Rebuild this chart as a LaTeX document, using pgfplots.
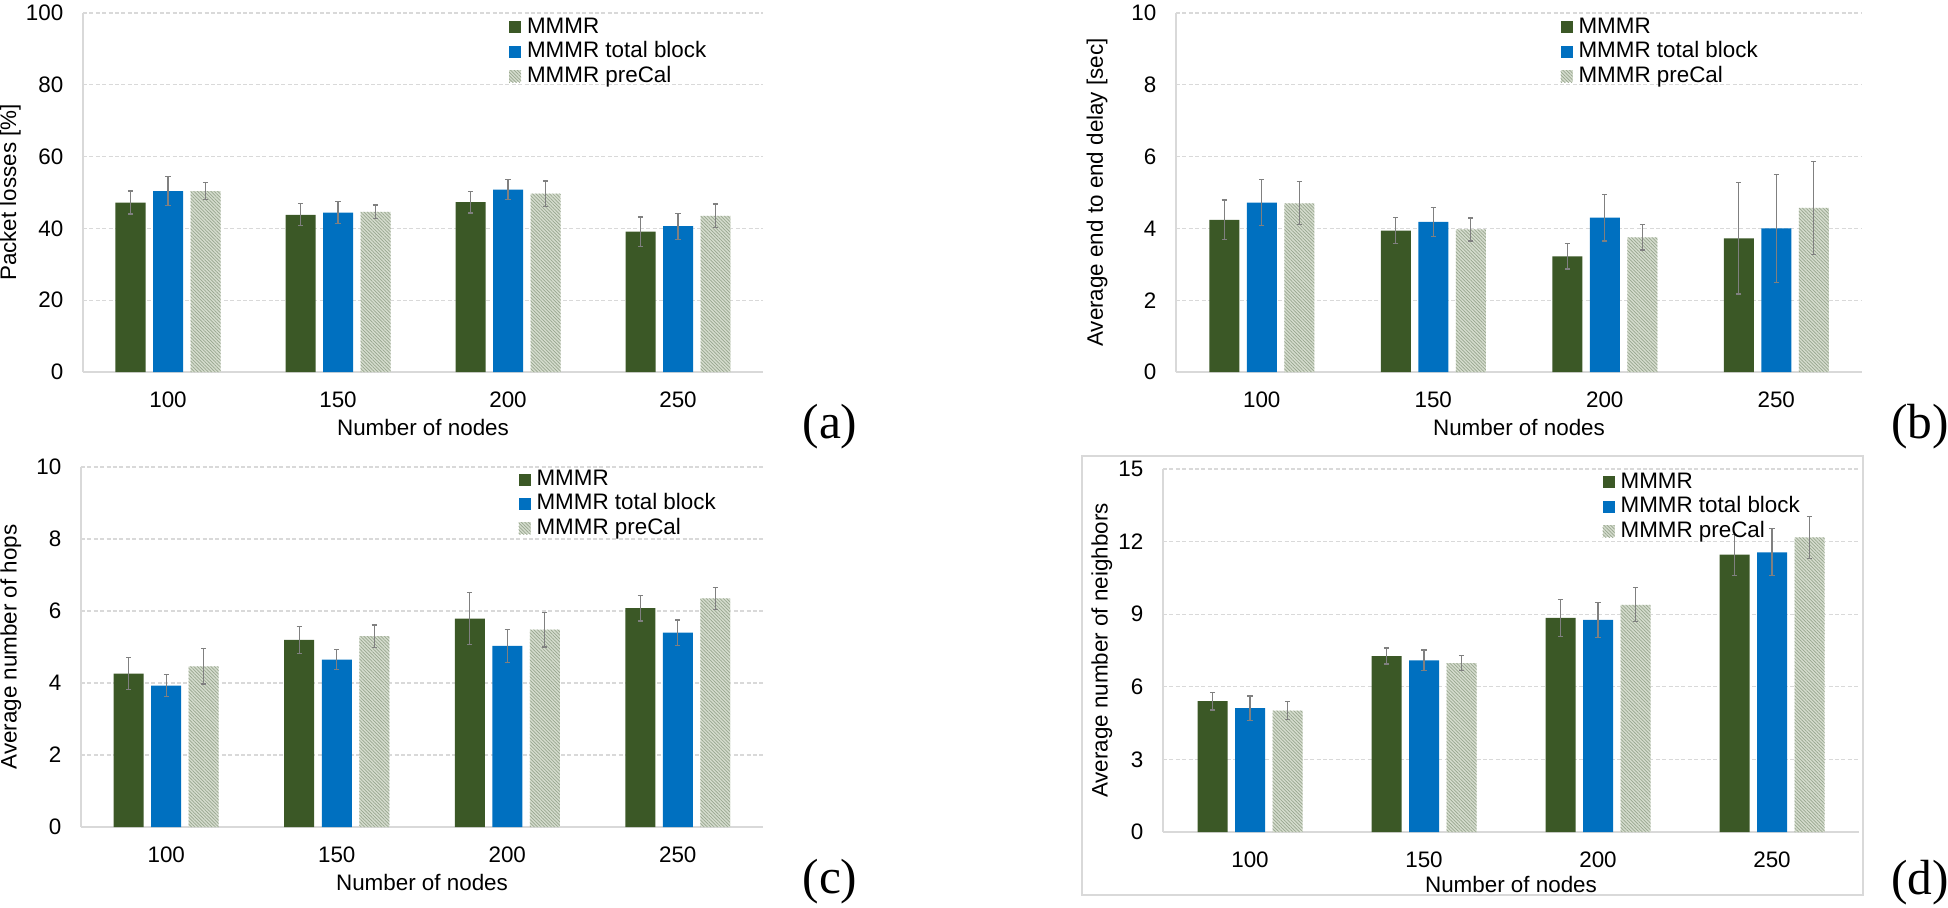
\documentclass[border=0pt]{standalone}
\usepackage{fontspec}
\setmainfont{Liberation Sans}
\newfontfamily\panelfont{Liberation Serif}
\usepackage{pgfplots}
\pgfplotsset{compat=1.18}
\usetikzlibrary{patterns.meta}

\definecolor{mgreen}{HTML}{3B5826}
\definecolor{mblue}{HTML}{0070C0}
\definecolor{pcfill}{HTML}{D5DCCE}
\definecolor{pcline}{HTML}{98A68E}
\definecolor{gridc}{HTML}{D9D9D9}
\definecolor{errc}{HTML}{808080}

\newcommand{\lbl}{\fontsize{11.2}{13}\selectfont}

\pgfplotsset{
  panel/.style={
    scale only axis,
    xmin=-0.5, xmax=3.5, ymin=0,
    axis lines*=left,
    axis line style={draw=gridc, line width=0.8pt},
    major tick length=0pt,
    xtick={0,1,2,3},
    xticklabels={100,150,200,250},
    ymajorgrids,
    grid style={draw=gridc, dash pattern=on 2pt off 1.2pt, line width=0.6pt},
    tick label style={font=\lbl},
    label style={font=\lbl},
    /pgf/number format/assume math mode=true,
    yticklabel style={xshift=-6.3pt},
    xticklabel style={yshift=-6.3pt},
    xlabel={Number of nodes},
    xlabel style={at={(axis description cs:0.5,0)}, anchor=center, yshift=-27.5pt},
    ybar, bar width=15pt,
    legend style={draw=none, fill=none, inner sep=0pt, font=\lbl,
      row sep=2.2pt, column sep=3pt, anchor=north west,
      nodes={inner sep=0pt, anchor=west, text height=8pt, text depth=2pt}},
    legend cell align=left,
  },
  sq/.style={legend image code/.code={\path[##1,draw=none] (0pt,-3pt) rectangle (6pt,3pt);}},
  errs/.style={
    error bars/y dir=both, error bars/y explicit,
    error bars/error bar style={errc, line width=0.6pt},
    error bars/error mark options={rotate=90, mark size=1.3pt, errc, line width=0.6pt}},
  s1/.style={fill=mgreen, draw=none, bar shift=-18.75pt, sq, errs},
  s2/.style={fill=mblue, draw=none, bar shift=0pt, sq, errs},
  s3/.style={fill=pcfill, draw=none, bar shift=18.75pt,
    postaction={pattern={Lines[angle=-45,distance=1.2pt,line width=0.35pt]}, pattern color=pcline},
    sq, errs},
}

\begin{document}
\begin{tikzpicture}
\path[use as bounding box] (0,0) rectangle (974pt,453.5pt);

% (a)
\begin{axis}[panel, at={(41.5pt,267.5pt)}, anchor=south west,
  width=340pt, height=179.5pt, ymax=100, ytick={0,20,...,100},
  ylabel={Packet losses [\%]},
  ylabel style={at={(axis description cs:-0.107,0.5)}, anchor=center},
  legend style={at={(axis description cs:0.626,0.989)}}]
\addplot[s1] coordinates {(0,47.2) +- (0,3.2) (1,43.8) +- (0,3.1) (2,47.3) +- (0,3.0) (3,39.1) +- (0,4.1)};
\addplot[s2] coordinates {(0,50.4) +- (0,4.0) (1,44.4) +- (0,3.1) (2,50.8) +- (0,2.8) (3,40.6) +- (0,3.6)};
\addplot[s3] coordinates {(0,50.4) +- (0,2.4) (1,44.6) +- (0,1.9) (2,49.7) +- (0,3.5) (3,43.5) +- (0,3.3)};
\legend{MMMR, MMMR total block, MMMR preCal}
\end{axis}

% (b)
\begin{axis}[panel, at={(588pt,267.5pt)}, anchor=south west,
  width=343pt, height=179.5pt, ymax=10, ytick={0,2,...,10},
  ylabel={Average end to end delay [sec]},
  ylabel style={at={(axis description cs:-0.115,0.5)}, anchor=center},
  legend style={at={(axis description cs:0.56,0.989)}}]
\addplot[s1] coordinates {(0,4.24) +- (0,0.55) (1,3.94) +- (0,0.37) (2,3.22) +- (0,0.35) (3,3.72) +- (0,1.55)};
\addplot[s2] coordinates {(0,4.72) +- (0,0.65) (1,4.18) +- (0,0.40) (2,4.30) +- (0,0.65) (3,4.00) +- (0,1.50)};
\addplot[s3] coordinates {(0,4.70) +- (0,0.60) (1,3.97) +- (0,0.32) (2,3.75) +- (0,0.35) (3,4.57) +- (0,1.30)};
\legend{MMMR, MMMR total block, MMMR preCal}
\end{axis}

% (c)
\begin{axis}[panel, at={(40.5pt,40pt)}, anchor=south west,
  width=341pt, height=180pt, ymax=10, ytick={0,2,...,10},
  ylabel={Average number of hops},
  ylabel style={at={(axis description cs:-0.103,0.5)}, anchor=center},
  legend style={at={(axis description cs:0.641,0.994)}}]
\addplot[s1] coordinates {(0,4.26) +- (0,0.44) (1,5.20) +- (0,0.38) (2,5.79) +- (0,0.72) (3,6.08) +- (0,0.36)};
\addplot[s2] coordinates {(0,3.93) +- (0,0.31) (1,4.65) +- (0,0.28) (2,5.03) +- (0,0.45) (3,5.40) +- (0,0.35)};
\addplot[s3] coordinates {(0,4.46) +- (0,0.49) (1,5.30) +- (0,0.31) (2,5.48) +- (0,0.48) (3,6.35) +- (0,0.30)};
\legend{MMMR, MMMR total block, MMMR preCal}
\end{axis}

% (d)
\draw[gridc, line width=0.6pt] (541pt,6pt) rectangle (931.5pt,225.5pt);
\begin{axis}[panel, at={(581.5pt,37.5pt)}, anchor=south west,
  width=348pt, height=181.5pt, ymax=15, ytick={0,3,...,15},
  ylabel={Average number of neighbors},
  ylabel style={at={(axis description cs:-0.088,0.5)}, anchor=center},
  xlabel style={yshift=1.5pt},
  legend style={at={(axis description cs:0.631,0.992)}}]
\addplot[s1] coordinates {(0,5.41) +- (0,0.37) (1,7.27) +- (0,0.33) (2,8.85) +- (0,0.76) (3,11.46) +- (0,0.85)};
\addplot[s2] coordinates {(0,5.12) +- (0,0.50) (1,7.09) +- (0,0.43) (2,8.77) +- (0,0.73) (3,11.56) +- (0,0.97)};
\addplot[s3] coordinates {(0,5.02) +- (0,0.37) (1,6.98) +- (0,0.31) (2,9.39) +- (0,0.70) (3,12.17) +- (0,0.86)};
\legend{MMMR, MMMR total block, MMMR preCal}
\end{axis}

\node[font=\panelfont\fontsize{24.7}{26}\selectfont] at (415pt,240pt) {(a)};
\node[font=\panelfont\fontsize{24.7}{26}\selectfont] at (960pt,240pt) {(b)};
\node[font=\panelfont\fontsize{24.7}{26}\selectfont] at (415pt,12.5pt) {(c)};
\node[font=\panelfont\fontsize{24.7}{26}\selectfont] at (960pt,12pt) {(d)};
\end{tikzpicture}
\end{document}
